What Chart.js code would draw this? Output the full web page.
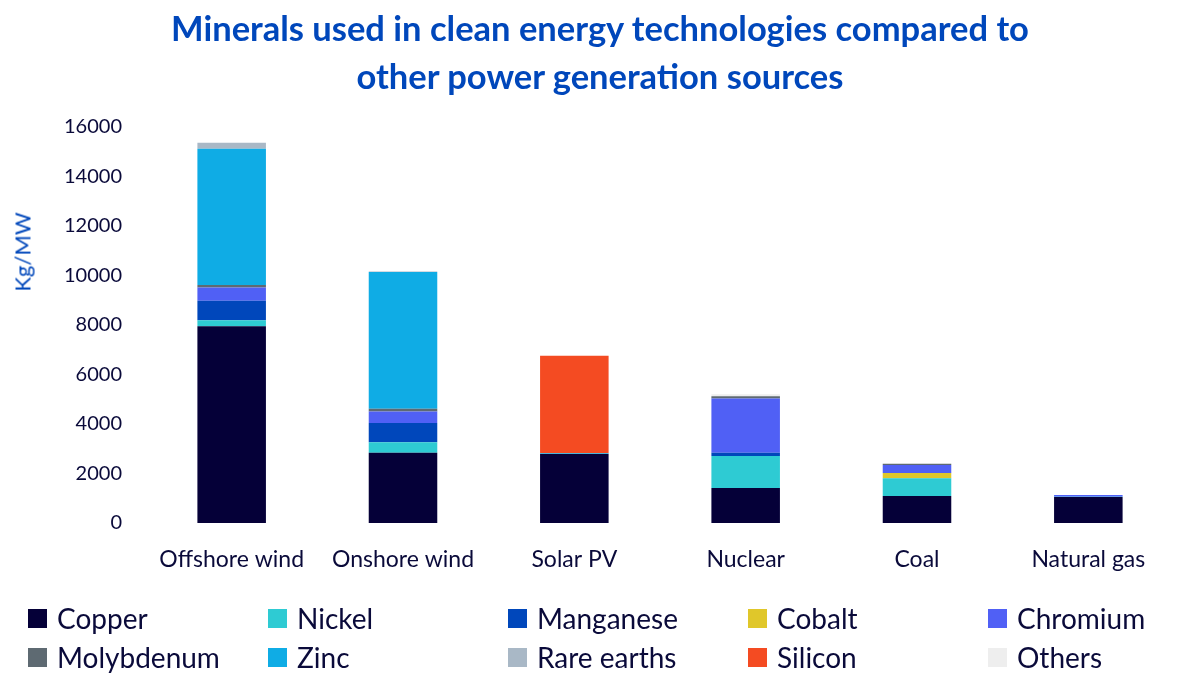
<!DOCTYPE html>
<html>
<head>
<meta charset="utf-8">
<script src="https://cdn.jsdelivr.net/npm/chart.js@4/dist/chart.umd.min.js"></script>
<style>
  html, body { margin:0; padding:0; background:#fff; }
  #wrap { position:relative; width:1200px; height:681px; overflow:hidden; font-family: Lato, "Open Sans", sans-serif; }
  #c { position:absolute; left:0; top:0; }
  #title { position:absolute; left:0; width:1200px; top:4px; text-align:center; color:#0047BB; font-weight:700; font-size:34.5px; line-height:48px; }
  #ytitle { position:absolute; left:22px; top:252px; transform: translate(-50%,-50%) rotate(-90deg); color:#0047BB; font-size:22px; white-space:nowrap; }
  .lg { position:absolute; display:flex; align-items:center; color:#0a0a3a; font-size:28px; white-space:nowrap; }
  .lg span.sw { display:inline-block; width:19px; height:19px; margin-right:10px; }
</style>
</head>
<body>
<div id="wrap">
  <canvas id="c" width="1200" height="681"></canvas>
  <div id="title">Minerals used in clean energy technologies compared to<br>other power generation sources</div>
  <div id="ytitle">Kg/MW</div>
  <div id="legend"></div>
</div>
<script>
const categories = ["Offshore wind", "Onshore wind", "Solar PV", "Nuclear", "Coal", "Natural gas"];
const yTicks = [0, 2000, 4000, 6000, 8000, 10000, 12000, 14000, 16000];

const copper      = [7950, 2840, 2790, 1410, 1090, 1050];
const nickel      = [240, 420, 0, 1297, 720, 15];
const manganese   = [790, 780, 0, 130, 0, 0];
const cobalt      = [0, 0, 0, 0, 210, 0];
const chromium    = [540, 470, 0, 2190, 320, 70];
const molybdenum  = [100, 105, 0, 90, 55, 0];
const zinc        = [5500, 5530, 30, 0, 0, 0];
const rareEarths  = [240, 14, 0, 0, 0, 0];
const silicon     = [0, 0, 3940, 0, 0, 0];
const others      = [0, 0, 0, 80, 0, 0];

const seriesNames = ["Copper", "Nickel", "Manganese", "Cobalt", "Chromium", "Molybdenum", "Zinc", "Rare earths", "Silicon", "Others"];
const seriesData = [copper, nickel, manganese, cobalt, chromium, molybdenum, zinc, rareEarths, silicon, others];
const seriesColors = ["#050038", "#2ECBD3", "#0047BB", "#E0C72A", "#5060F5", "#5E6A72", "#0FACE5", "#A9B8C6", "#F44B22", "#EEEEEE"];

const datasets = seriesNames.map((n, i) => ({
  label: n,
  data: seriesData[i],
  backgroundColor: seriesColors[i],
  borderWidth: 0,
  barPercentage: 0.4,
  categoryPercentage: 1.0
}));

new Chart(document.getElementById('c'), {
  type: 'bar',
  data: { labels: categories, datasets },
  options: {
    responsive: false,
    animation: false,
    layout: { padding: { left: 0, right: 26, top: 127, bottom: 0 } },
    plugins: { legend: { display: false }, title: { display: false }, tooltip: { enabled: false } },
    scales: {
      x: {
        stacked: true,
        grid: { display: false },
        border: { display: false },
        ticks: { color: '#0a0a3a', font: { family: 'Lato', size: 23 }, padding: 15 },
        afterFit: s => { s.height = 158; }
      },
      y: {
        stacked: true,
        min: 0, max: 16000,
        grid: { display: false },
        border: { display: false },
        afterBuildTicks: s => { s.ticks = yTicks.map(v => ({ value: v })); },
        ticks: { color: '#0a0a3a', font: { family: 'Lato', size: 20 }, padding: 16, callback: v => String(v) },
        afterFit: s => { s.width = 146; }
      }
    }
  }
});

const lg = document.getElementById('legend');
seriesNames.forEach((n, i) => {
  const d = document.createElement('div');
  d.className = 'lg';
  const col = i % 5, row = Math.floor(i / 5);
  d.style.left = (28 + col * 240) + 'px';
  d.style.top = (601 + row * 39) + 'px';
  d.innerHTML = '<span class="sw" style="background:' + seriesColors[i] + '"></span>' + n;
  lg.appendChild(d);
});
</script>
</body>
</html>
